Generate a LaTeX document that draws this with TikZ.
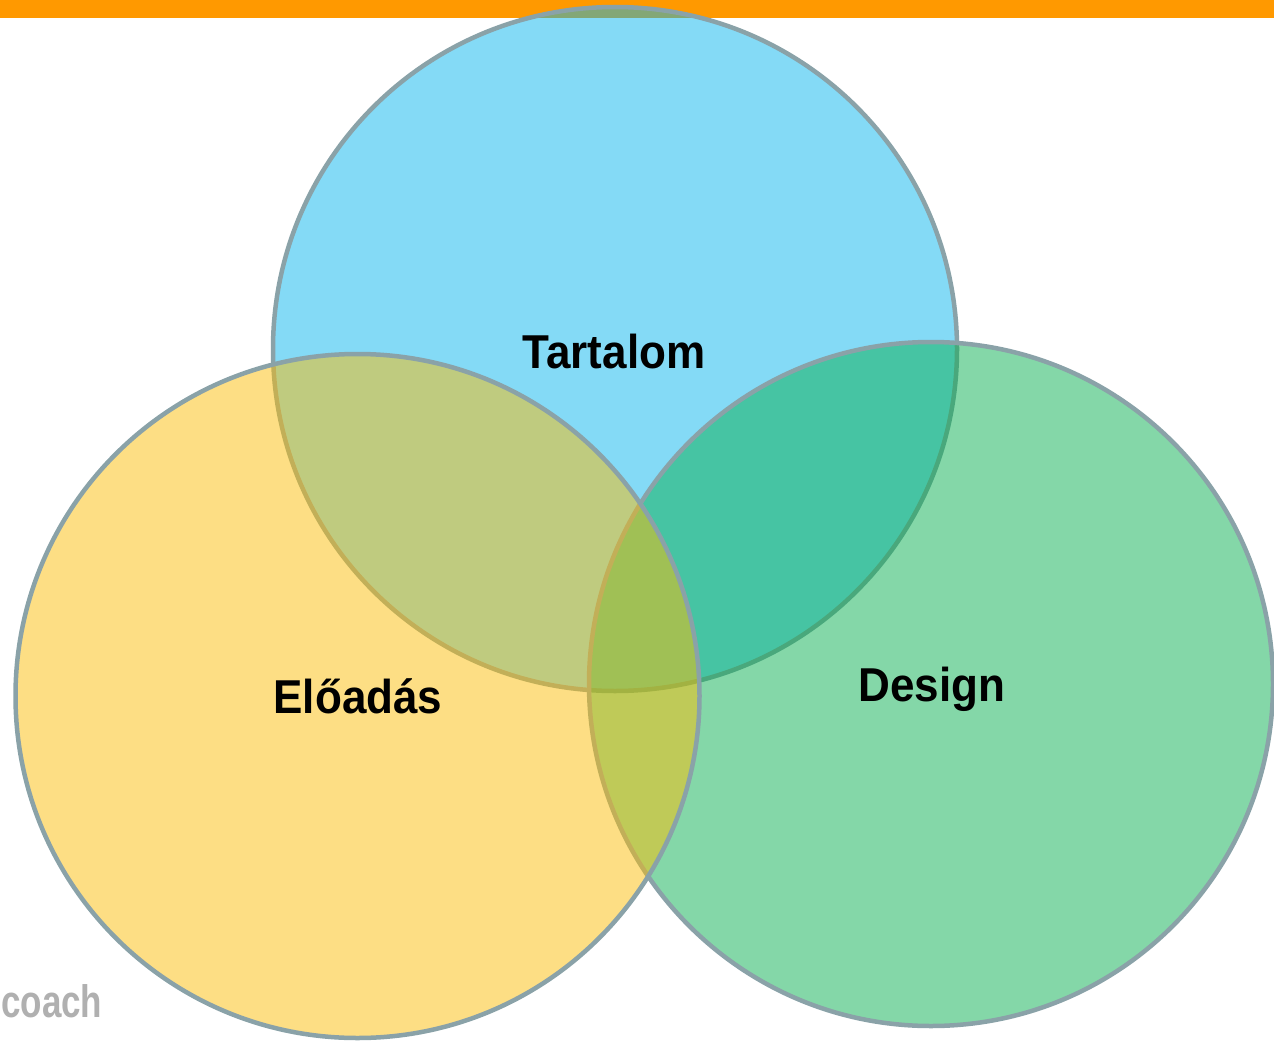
\documentclass[tikz,border=0pt]{standalone}
\usepackage{fontspec}
\usepackage{graphicx}
\setmainfont{Liberation Sans}
\definecolor{corange}{RGB}{255,153,0}
\definecolor{cblue}{RGB}{9,181,237}
\definecolor{cgreen}{RGB}{9,175,81}
\definecolor{cyellow}{RGB}{251,189,9}
\definecolor{cedge}{RGB}{138,162,168}
\definecolor{cgreytext}{RGB}{176,176,176}
\begin{document}
\begin{tikzpicture}[x=1pt,y=-1pt,
  venn/.style={circle, draw=cedge, line width=4.5pt, fill opacity=0.5, minimum size=684pt, inner sep=0pt, outer sep=0pt},
  lab/.style={font=\fontsize{44}{50}\selectfont\bfseries, text=black, anchor=base, inner sep=0pt}]
\useasboundingbox (0,0) rectangle (1274,1041);
\fill[corange] (0,0) rectangle (1274,18);
\node[venn, fill=cblue] (tartalom) at (615,349) {};
\node[venn, fill=cgreen] (design) at (931,684) {};
\node[venn, fill=cyellow] (eloadas) at (357.5,696) {};
\node[lab] (lt) at (614,368) {\scalebox{1}[1.08]{Tartalom}};
\node[lab] (le) at (358,713) {\scalebox{1}[1.08]{Előadás}};
\node[lab] (ld) at (932,701) {\scalebox{1}[1.08]{Design}};
\node[font=\fontsize{35}{40}\selectfont\bfseries, text=cgreytext, anchor=base west, inner sep=0pt] (coach) at (1,1017) {\scalebox{1}[1.3]{coach}};
\end{tikzpicture}
\end{document}
